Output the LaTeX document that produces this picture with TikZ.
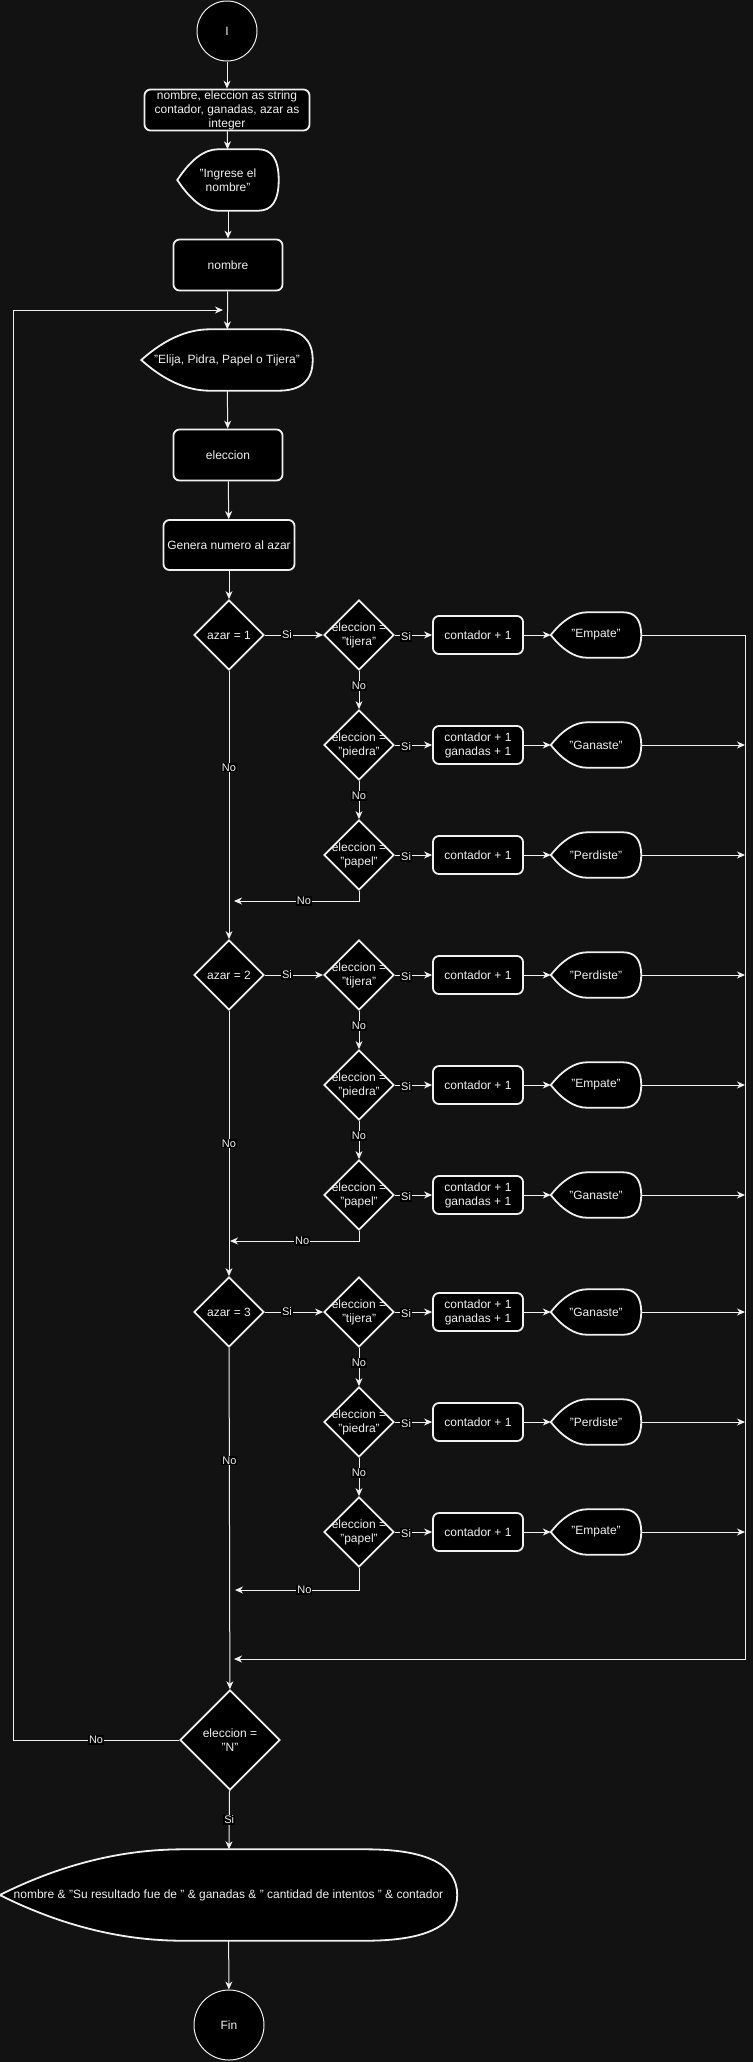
\documentclass[tikz,border=0pt]{standalone}
\usepackage{fontspec}
\setmainfont{Liberation Sans}
\usetikzlibrary{shapes.geometric,arrows.meta,calc}

\definecolor{pagebg}{HTML}{121212}
\definecolor{ink}{HTML}{F0F0F0}

\pgfdeclarelayer{back}
\pgfdeclarelayer{shapes}
\pgfsetlayers{back,shapes,main}

\tikzset{
  every node/.style={text=ink, font=\fontsize{12}{14}\selectfont},
  box/.style={draw=ink, fill=black, rounded corners=6pt, line width=1.8pt, align=center, inner sep=0pt},
  accion/.style={box, minimum width=90pt, minimum height=38pt},
  cond/.style={diamond, draw=ink, fill=black, line width=1.8pt, align=center, inner sep=-4pt,
    minimum width=70pt, minimum height=70pt},
  disp/.style={align=center, inner sep=0pt},
  msg/.style={disp, minimum width=90pt, minimum height=45pt},
  terminal/.style={circle, draw=ink, fill=black, line width=1pt, minimum size=60pt, inner sep=0pt},
  flow/.style={draw=ink, line width=1pt, -{Stealth[length=8pt,width=7pt,inset=2.5pt]}},
  lbl/.style={fill=black, inner sep=1pt, font=\fontsize{11}{12}\selectfont},
}

% contorno de entrada/salida (display)
\newcommand{\dispshape}[1]{%
  \path (#1.north west) -- coordinate[pos=0.2] (#1-a1) coordinate[pos=0.4] (#1-a2)
    coordinate[pos=0.8] (#1-a3) (#1.north east);
  \path (#1.south west) -- coordinate[pos=0.2] (#1-b1) coordinate[pos=0.4] (#1-b2)
    coordinate[pos=0.8] (#1-b3) (#1.south east);
  \draw[draw=ink, fill=black, line width=1.8pt]
    (#1.west) .. controls ($(#1.west)!0.667!(#1-a1)$) and ($(#1-a2)!0.667!(#1-a1)$) .. (#1-a2)
    -- (#1-a3) .. controls ($(#1-a3)!0.667!(#1.north east)$) and ($(#1.east)!0.667!(#1.north east)$) .. (#1.east)
    .. controls ($(#1.east)!0.667!(#1.south east)$) and ($(#1-b3)!0.667!(#1.south east)$) .. (#1-b3)
    -- (#1-b2) .. controls ($(#1-b2)!0.667!(#1-b1)$) and ($(#1.west)!0.667!(#1-b1)$) .. (#1.west)
    -- cycle;}

\begin{document}
\begin{tikzpicture}[x=1pt, y=-1pt]
\useasboundingbox (0,0) rectangle (753,2062);

\node[terminal] (inicio) at (227,31) {I};
\node[box, minimum width=165pt, minimum height=41pt] (decl) at (227,110)
  {nombre, eleccion as string\\contador, ganadas, azar as\\integer};
\node[disp, minimum width=101pt, minimum height=61pt] (ingrese) at (228,180) {"Ingrese el\\nombre"};
\node[box, minimum width=109pt, minimum height=51pt] (nombre) at (228,265) {nombre};
\node[disp, minimum width=171pt, minimum height=61pt] (elija) at (227,360) {"Elija, Pidra, Papel o Tijera"};
\node[box, minimum width=109pt, minimum height=51pt] (eleccion) at (228,455) {eleccion};
\node[box, minimum width=131pt, minimum height=50pt] (genera) at (229,545) {Genera numero al azar};

% azar = 1
\node[cond] (az1) at (229,635) {azar = 1};
\node[cond] (t1) at (359,635) {eleccion =\\"tijera"};
\node[cond] (p1) at (359,745) {eleccion =\\"piedra"};
\node[cond] (l1) at (359,855) {eleccion =\\"papel"};
\node[accion] (ct1) at (478,635) {contador + 1};
\node[accion] (cp1) at (478,745) {contador + 1\\ganadas + 1};
\node[accion] (cl1) at (478,855) {contador + 1};
\node[msg] (mt1) at (596,635) {"Empate"};
\node[msg] (mp1) at (596,745) {"Ganaste"};
\node[msg] (ml1) at (596,855) {"Perdiste"};

% azar = 2
\node[cond] (az2) at (229,975) {azar = 2};
\node[cond] (t2) at (359,975) {eleccion =\\"tijera"};
\node[cond] (p2) at (359,1085) {eleccion =\\"piedra"};
\node[cond] (l2) at (359,1195) {eleccion =\\"papel"};
\node[accion] (ct2) at (478,975) {contador + 1};
\node[accion] (cp2) at (478,1085) {contador + 1};
\node[accion] (cl2) at (478,1195) {contador + 1\\ganadas + 1};
\node[msg] (mt2) at (596,975) {"Perdiste"};
\node[msg] (mp2) at (596,1085) {"Empate"};
\node[msg] (ml2) at (596,1195) {"Ganaste"};

% azar = 3
\node[cond] (az3) at (229,1312) {azar = 3};
\node[cond] (t3) at (359,1312) {eleccion =\\"tijera"};
\node[cond] (p3) at (359,1422) {eleccion =\\"piedra"};
\node[cond] (l3) at (359,1532) {eleccion =\\"papel"};
\node[accion] (ct3) at (478,1312) {contador + 1\\ganadas + 1};
\node[accion] (cp3) at (478,1422) {contador + 1};
\node[accion] (cl3) at (478,1532) {contador + 1};
\node[msg] (mt3) at (596,1312) {"Ganaste"};
\node[msg] (mp3) at (596,1422) {"Perdiste"};
\node[msg] (ml3) at (596,1532) {"Empate"};

\node[cond, minimum width=100pt, minimum height=100pt] (salir) at (230,1740) {eleccion =\\"N"};
\node[disp, minimum width=457pt, minimum height=91pt] (resultado) at (228.5,1895)
  {nombre \& "Su resultado fue de " \& ganadas \& " cantidad de intentos " \& contador};
\node[terminal, minimum size=70pt] (fin) at (229,2025) {Fin};

\coordinate (r1) at (234,901);
\coordinate (r2) at (230,1241);
\coordinate (r3) at (235,1590);
\coordinate (junta) at (745,1659);
\coordinate (juntafin) at (234,1659);
\coordinate (vuelta) at (13,310);
\coordinate (entra) at (223,310);

\draw[flow] (inicio) -- (decl);
\draw[flow] (decl) -- (ingrese);
\draw[flow] (ingrese) -- (nombre);
\draw[flow] (nombre) -- (elija);
\draw[flow] (elija) -- (eleccion);
\draw[flow] (eleccion) -- (genera);
\draw[flow] (genera) -- (az1);
\draw[flow] (az1) -- node[lbl, pos=0.36]{No} (az2);
\draw[flow] (az2) -- node[lbl, pos=0.5]{No} (az3);
\draw[flow] (az3) -- node[lbl, pos=0.33]{No} (salir);

\foreach \b in {1,2,3}{
  \draw[flow] (az\b) -- node[lbl, pos=0.38]{Si} (t\b);
  \draw[flow] (t\b) -- node[lbl, pos=0.4]{No} (p\b);
  \draw[flow] (p\b) -- node[lbl, pos=0.4]{No} (l\b);
  \draw[flow] (l\b.south) |- node[lbl, pos=0.72]{No} (r\b);
  \foreach \e in {t,p,l}{
    \draw[flow] (\e\b) -- node[lbl, pos=0.3, yshift=-1.5pt]{Si} (c\e\b);
    \draw[flow] (c\e\b) -- (m\e\b);
  }
}

\draw[flow] (mt1.east) -| (junta) -- (juntafin);
\foreach \n in {mp1,ml1,mt2,mp2,ml2,mt3,mp3,ml3}
  \draw[flow] (\n.east) -- (\n.east -| junta);

\draw[flow] (salir.west) -| node[lbl, pos=0.25]{No} (vuelta) -- (entra);
\draw[flow] (salir) -- node[lbl]{Si} (resultado);
\draw[flow] (resultado) -- (fin);

\begin{pgfonlayer}{shapes}
\foreach \n in {ingrese,elija,mt1,mp1,ml1,mt2,mp2,ml2,mt3,mp3,ml3,resultado}
  \dispshape{\n};
\end{pgfonlayer}
\begin{pgfonlayer}{back}
\fill[pagebg] (0,0) rectangle (753,2062);
\end{pgfonlayer}
\end{tikzpicture}
\end{document}
